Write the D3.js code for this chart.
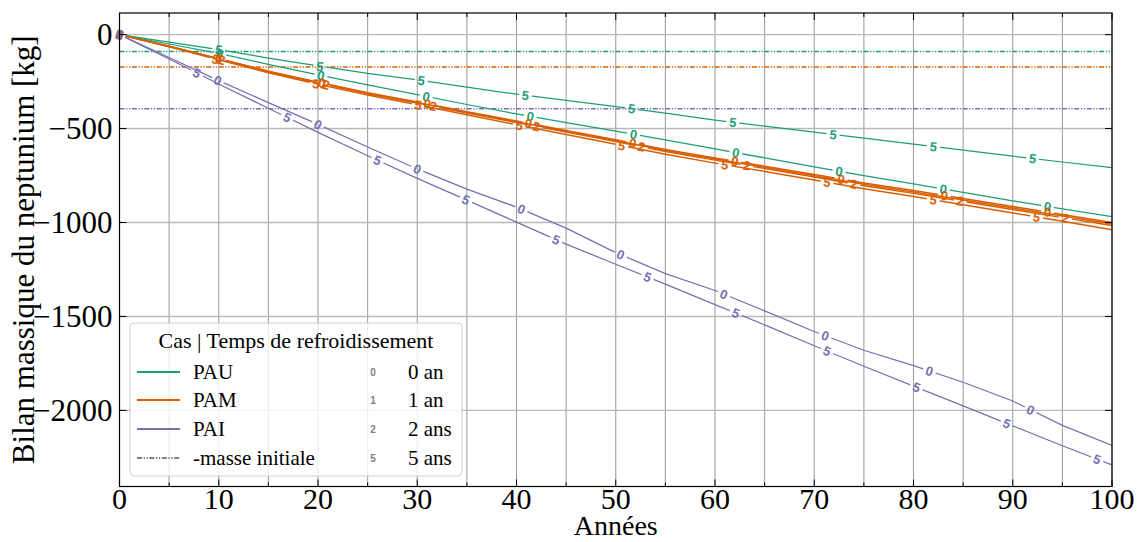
<!DOCTYPE html>
<html><head><meta charset="utf-8">
<script src="https://cdn.jsdelivr.net/npm/d3@7"></script>
<style>body{margin:0;background:#fff} svg{display:block}</style>
</head><body><svg id="c" width="1140" height="542"></svg>
<script>
// ---------------- DATA ----------------
const years = [0,5,10,15,20,25,30,35,40,45,50,55,60,65,70,75,80,85,90,95,100];
const cases = ["PAU","PAM","PAI"];
const caseColors = ["#1b9e77","#d95f02","#7570b3"];
const initialMasses = [-90,-172,-395];
const coolingKeys = ["0","1","2","5"];
const coolingLabels = ["0 an","1 an","2 ans","5 ans"];

const pau0 = [0,-50,-100,-158,-214,-268,-320,-372,-422,-468,-514,-560,-608,-656,-704,-750,-795,-840,-885,-928,-969];
const pau5 = [0,-40,-80,-125,-167,-206,-241,-280,-317,-350,-383,-418,-455,-487,-519,-551,-583,-615,-647,-678,-708];
const pam0 = [0,-62,-128,-195,-253,-310,-358,-410,-460,-510,-560,-612,-657,-700,-745,-790,-830,-872,-915,-957,-1000];
const pam1 = [0,-62,-129,-196,-255,-312,-361,-413,-464,-514,-564,-617,-662,-706,-751,-797,-838,-880,-923,-965,-1008];
const pam2 = [0,-63,-130,-198,-257,-315,-364,-417,-468,-519,-569,-622,-668,-712,-758,-804,-845,-888,-931,-974,-1016];
const pam5 = [0,-65,-134,-203,-264,-322,-373,-427,-480,-532,-584,-637,-684,-728,-774,-820,-862,-905,-949,-993,-1038];
const pai0 = [0,-122,-245,-362,-478,-598,-715,-822,-918,-1030,-1160,-1272,-1362,-1470,-1580,-1680,-1762,-1850,-1950,-2080,-2187];
const pai5 = [0,-130,-263,-392,-520,-645,-765,-881,-998,-1115,-1222,-1328,-1437,-1545,-1656,-1765,-1871,-1976,-2082,-2188,-2290];

// years at which inline labels sit on each line
const pau0Labels = [0,10.1,20.3,30.9,41.4,51.8,62.1,72.5,83.0,93.5];
const pau5Labels = [0,10.0,20.2,30.4,40.9,51.6,61.8,71.9,82.0,92.0];
const pam0Labels = [0,10.0,20.4,31.0,41.2,51.7,62.0,72.7,83.1,93.5];
const pam1Labels = [0,10.1,20.6];
const pam2Labels = [0,10.3,20.8,31.6,42.0,52.6,63.2,74.0,84.7,95.3];
const pam5Labels = [0,9.7,19.8,30.1,40.3,50.6,61.0,71.3,82.0,92.4];
const pai0Labels = [0,9.9,20.0,30.0,40.5,50.5,60.9,71.1,81.6,91.8];
const pai5Labels = [0,7.8,16.9,26.0,34.9,44.0,53.2,62.1,71.3,80.3,89.4,98.5];

const xTicks = [0,10,20,30,40,50,60,70,80,90,100];
const xMinorTicks = [5,15,25,35,45,55,65,75,85,95];
const yTicks = [0,-500,-1000,-1500,-2000];

const series = [
  {c:0, key:"0", values:pau0, labels:pau0Labels},
  {c:0, key:"5", values:pau5, labels:pau5Labels},
  {c:1, key:"5", values:pam5, labels:pam5Labels},
  {c:1, key:"2", values:pam2, labels:pam2Labels},
  {c:1, key:"1", values:pam1, labels:pam1Labels},
  {c:1, key:"0", values:pam0, labels:pam0Labels},
  {c:2, key:"0", values:pai0, labels:pai0Labels},
  {c:2, key:"5", values:pai5, labels:pai5Labels}
];

// ---------------- CHART ----------------
const svg = d3.select("#c");
const L = 119.5, R = 1112, T = 13, B = 486.5;
const x = d3.scaleLinear().domain([0,100]).range([L,R]);
const y = d3.scaleLinear().domain([-2405,115]).range([B,T]);
const serif = "'Liberation Serif', 'Times New Roman', serif";
const defs = svg.append("defs");
defs.append("clipPath").attr("id","plotclip").append("rect")
  .attr("x",L).attr("y",T).attr("width",R-L).attr("height",B-T);

// grid
const grid = svg.append("g");
grid.selectAll("line.v").data(xTicks.concat(xMinorTicks)).join("line")
  .attr("x1",d=>x(d)).attr("x2",d=>x(d)).attr("y1",T).attr("y2",B)
  .attr("stroke","#a0a0a0").attr("stroke-width",1.1);
grid.selectAll("line.h").data(yTicks).join("line")
  .attr("x1",L).attr("x2",R).attr("y1",d=>y(d)).attr("y2",d=>y(d))
  .attr("stroke","#b8b8b8").attr("stroke-width",1.4);

const plot = svg.append("g").attr("clip-path","url(#plotclip)");
// initial mass lines
const dashPat = "5,1.6,1.3,1.6,1.3,1.6";
plot.selectAll("line.im").data(initialMasses).join("line")
  .attr("x1",L).attr("x2",R).attr("y1",d=>y(d)).attr("y2",d=>y(d))
  .attr("stroke",(d,i)=>caseColors[i]).attr("stroke-width",1.5)
  .attr("stroke-dasharray",dashPat);

const lineGen = d3.line().x((d,i)=>x(years[i])).y(d=>y(d));
function interp(vals, yr){
  let i = Math.min(Math.floor(yr/5), years.length-2);
  const t = (yr - years[i])/(years[i+1]-years[i]);
  return vals[i] + t*(vals[i+1]-vals[i]);
}
function angleAt(vals, yr){
  let i = Math.min(Math.floor(yr/5), years.length-2);
  const dx = x(years[i+1])-x(years[i]);
  const dy = y(vals[i+1])-y(vals[i]);
  return Math.atan2(dy,dx)*180/Math.PI;
}

const linesG = svg.append("g");
const labelsG = svg.append("g");
series.forEach((s,si)=>{
  const col = caseColors[s.c];
  const maskId = "m"+si;
  const mask = defs.append("mask").attr("id",maskId).attr("maskUnits","userSpaceOnUse")
    .attr("x",0).attr("y",0).attr("width",1140).attr("height",542);
  mask.append("rect").attr("x",0).attr("y",0).attr("width",1140).attr("height",542).attr("fill","#fff");
  linesG.append("g").attr("clip-path","url(#plotclip)")
    .append("path").datum(s.values).attr("d",lineGen)
    .attr("fill","none").attr("stroke",col)
    .attr("stroke-width", s.c===1 ? 1.5 : 1.25)
    .attr("mask","url(#"+maskId+")");
  s.labels.forEach(yr=>{
    const px = x(yr), py = y(interp(s.values,yr)), a = angleAt(s.values,yr);
    const g = labelsG.append("g").attr("transform",`translate(${px},${py}) rotate(${a})`);
    g.append("text").text(s.key)
      .attr("text-anchor","middle").attr("dy","0.36em")
      .attr("font-family","'Liberation Sans', Arial, sans-serif")
      .attr("font-weight","bold").attr("font-size",13)
      .attr("fill",col);
    mask.append("rect").attr("x",-6.5).attr("y",-5).attr("width",13).attr("height",10)
      .attr("fill","#000").attr("transform",`translate(${px},${py}) rotate(${a})`);
  });
});

// frame
svg.append("rect").attr("x",L).attr("y",T).attr("width",R-L).attr("height",B-T)
  .attr("fill","none").attr("stroke","#000").attr("stroke-width",1.2);

// ticks (inward, all sides)
const ticks = svg.append("g").attr("stroke","#000").attr("stroke-width",1);
xTicks.forEach(t=>{
  ticks.append("line").attr("x1",x(t)).attr("x2",x(t)).attr("y1",B).attr("y2",B-7);
  ticks.append("line").attr("x1",x(t)).attr("x2",x(t)).attr("y1",T).attr("y2",T+7);
});
xMinorTicks.forEach(t=>{
  ticks.append("line").attr("x1",x(t)).attr("x2",x(t)).attr("y1",B).attr("y2",B-4);
  ticks.append("line").attr("x1",x(t)).attr("x2",x(t)).attr("y1",T).attr("y2",T+4);
});
yTicks.forEach(t=>{
  ticks.append("line").attr("x1",L).attr("x2",L+7).attr("y1",y(t)).attr("y2",y(t));
  ticks.append("line").attr("x1",R).attr("x2",R-7).attr("y1",y(t)).attr("y2",y(t));
});

// tick labels
const fmt = d3.format("d");
svg.append("g").selectAll("text").data(xTicks).join("text")
  .attr("x",d=>x(d)).attr("y",509).attr("text-anchor","middle")
  .attr("font-family",serif).attr("font-size",30).text(d=>fmt(d));
svg.append("g").selectAll("text").data(yTicks).join("text")
  .attr("x",L-7).attr("y",d=>y(d)).attr("dy","0.33em").attr("text-anchor","end")
  .attr("font-family",serif).attr("font-size",31).text(d=>fmt(d).replace("-","\u2212"));

// axis titles
svg.append("text").attr("x",(L+R)/2).attr("y",535).attr("text-anchor","middle")
  .attr("font-family",serif).attr("font-size",28).text("Années");
svg.append("text").attr("transform",`translate(34,${(T+B)/2}) rotate(-90)`)
  .attr("text-anchor","middle").attr("font-family",serif).attr("font-size",31)
  .text("Bilan massique du neptunium [kg]");

// legend
const lg = svg.append("g");
lg.append("rect").attr("x",130).attr("y",323).attr("width",332).attr("height",153)
  .attr("rx",4).attr("fill","#fff").attr("fill-opacity",0.8)
  .attr("stroke","#cfcfcf").attr("stroke-width",1);
lg.append("text").attr("x",296).attr("y",348).attr("text-anchor","middle")
  .attr("font-family",serif).attr("font-size",22).text("Cas | Temps de refroidissement");
const rowY = [372,400,429,458];
const handleNames = cases.concat(["-masse initiale"]);
handleNames.forEach((n,i)=>{
  lg.append("line").attr("x1",137).attr("x2",180).attr("y1",rowY[i]).attr("y2",rowY[i])
    .attr("stroke", i<3 ? caseColors[i] : "#808080").attr("stroke-width",2)
    .attr("stroke-dasharray", i<3 ? null : dashPat);
  lg.append("text").attr("x",193).attr("y",rowY[i]+6.5)
    .attr("font-family",serif).attr("font-size",21).text(n);
});
coolingKeys.forEach((k,i)=>{
  lg.append("text").attr("x",373).attr("y",rowY[i]).attr("dy","0.36em")
    .attr("text-anchor","middle").attr("font-family","'Liberation Sans', Arial, sans-serif")
    .attr("font-weight","bold").attr("font-size",10).attr("fill","#808080").text(k);
  lg.append("text").attr("x",408).attr("y",rowY[i]+6.5)
    .attr("font-family",serif).attr("font-size",21).text(coolingLabels[i]);
});
</script></body></html>
